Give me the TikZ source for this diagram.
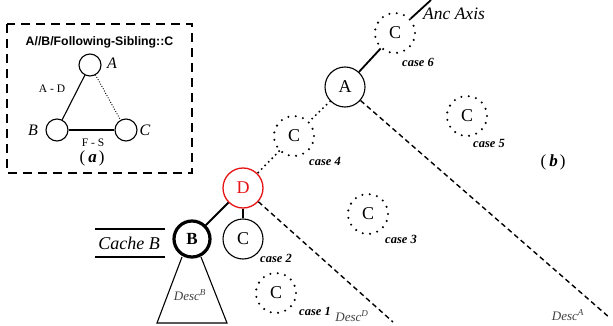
\documentclass[tikz,border=0pt]{standalone}
\usepackage{fontspec}
\setmainfont{Liberation Serif}
\newfontfamily\titlefont{Liberation Sans}
\definecolor{dred}{RGB}{230,20,20}
\begin{document}
\begin{tikzpicture}[x=1pt,y=-1pt,
  circ/.style={circle, draw, line width=1.1pt, minimum size=40pt, inner sep=0pt, font=\fontsize{18}{18}\selectfont},
  dcirc/.style={circle, draw, line width=2.3pt, dash pattern=on 0pt off 7.4pt, line cap=round, minimum size=40pt, inner sep=0pt, font=\fontsize{18}{18}\selectfont},
  scirc/.style={circle, draw, line width=1.1pt, minimum size=22pt, inner sep=0pt},
  caselbl/.style={font=\fontsize{12.5}{13}\selectfont\itshape\bfseries, inner sep=0pt},
  desclbl/.style={font=\fontsize{13}{13}\selectfont\itshape, text=black!75, inner sep=0pt},
  conn/.style={line width=1.8pt},
  dotconn/.style={line width=2.2pt, dash pattern=on 0pt off 5pt, line cap=round},
  dashconn/.style={line width=1.4pt, dash pattern=on 5pt off 3.5pt},
  ilbl/.style={font=\fontsize{16}{16}\selectfont\itshape, inner sep=0pt},
  smlbl/.style={font=\fontsize{11.5}{12}\selectfont, inner sep=0pt},
  paren/.style={font=\fontsize{17}{17}\selectfont, inner sep=0pt}
]
\useasboundingbox (0,0) rectangle (613,326);

% ---------- (a) ----------
\draw[line width=1.6pt, dash pattern=on 9pt off 6pt] (7,24) rectangle (192,173);
\node[font=\titlefont\bfseries\fontsize{12.3}{13}\selectfont, inner sep=0pt] (title) at (99.5,42) {A//B/Following-Sibling::C};
\node[scirc] (aA) at (90,65) {};
\node[scirc] (aB) at (57,130) {};
\node[scirc] (aC) at (126,130) {};
\node[ilbl] (lA) at (112,63) {A};
\node[ilbl] (lB) at (33,130) {B};
\node[ilbl] (lC) at (145,130) {C};
\draw[line width=1.1pt] (aA) -- (aB);
\draw[line width=1.6pt] (aB) -- (aC);
\draw[line width=1.3pt, dash pattern=on 0pt off 2.6pt, line cap=round] (aA) -- (aC);
\node[smlbl] (ad) at (52,89) {A - D};
\node[smlbl] (fs) at (93,143) {F - S};
\node[paren] (pa) at (92,158) {(\hspace{3pt}\textbf{\textit{a}}\hspace{2pt})};

% ---------- (b) ----------
\node[dcirc] (C6) at (395,33) {C};
\node[circ] (A) at (345,87) {A};
\node[dcirc] (C4) at (294,136) {C};
\node[circ, draw=dred, text=dred, line width=1.3pt] (D) at (243,188) {D};
\node[circ, line width=3.2pt, minimum size=36pt, font=\fontsize{17}{17}\selectfont\bfseries] (B) at (192,239) {B};
\node[circ] (C2) at (243,239) {C};
\node[dcirc] (C1) at (276,293) {C};
\node[dcirc] (C3) at (368,214) {C};
\node[dcirc] (C5) at (467,116) {C};

\coordinate (top) at (431,0);
\coordinate (endD) at (393,322);
\coordinate (endA) at (610,318);

\draw[conn] (C6) -- (top);
\draw[conn] (C6) -- (A);
\draw[dotconn] (A) -- (C4);
\draw[dotconn] (C4) -- (D);
\draw[conn] (D) -- (B);
\draw[conn] (D) -- (C2);
\draw[dashconn] (D) -- (endD);
\draw[dashconn] (A) -- (endA);

\node[font=\fontsize{17.5}{18}\selectfont\itshape, anchor=west, inner sep=0pt] (anc) at (423,14) {Anc Axis};

\node[caselbl] (k6) at (418,62) {case 6};
\node[caselbl] (k4) at (325,161) {case 4};
\node[caselbl] (k2) at (276,258) {case 2};
\node[caselbl] (k1) at (315,311) {case 1};
\node[caselbl] (k3) at (401,239) {case 3};
\node[caselbl] (k5) at (489,143) {case 5};

\node[paren] (pb) at (553,162) {(\hspace{3pt}\textbf{\textit{b}}\hspace{2pt})};

% Cache B
\node[font=\fontsize{18}{18}\selectfont\itshape, inner sep=0pt] (cache) at (129,243) {Cache B};
\draw[line width=1.4pt] (95,229) -- (165,229);
\draw[line width=1.4pt] (95,257) -- (165,257);

% Desc triangle under B
\coordinate (t1) at (182,257);
\coordinate (t2) at (201,257);
\draw[line width=1.1pt] (t1) -- (157,323) -- (227,323) -- (t2);
\node[desclbl] (dB) at (190,295) {Desc\textsuperscript{B}};
\node[desclbl] (dD) at (352,316) {Desc\textsuperscript{D}};
\node[desclbl] (dA) at (568,315) {Desc\textsuperscript{A}};
\end{tikzpicture}
\end{document}
